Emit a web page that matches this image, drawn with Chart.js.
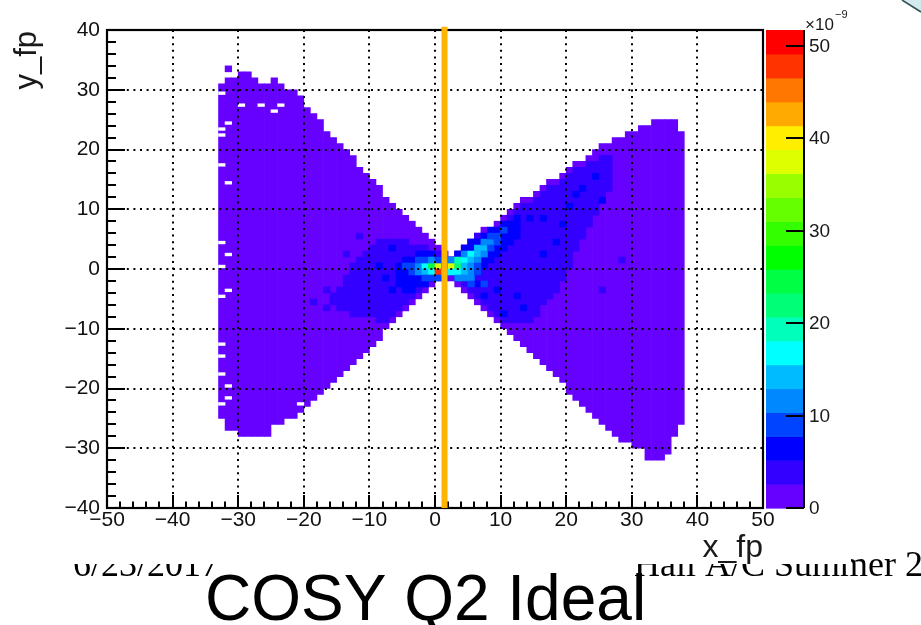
<!DOCTYPE html>
<html>
<head>
<meta charset="utf-8">
<script src="https://cdn.jsdelivr.net/npm/chart.js@4.4.1/dist/chart.umd.min.js"></script>
<style>
  html, body { margin: 0; padding: 0; background: #fff; }
  #wrap { width: 921px; height: 625px; position: relative; }
</style>
</head>
<body>
<div id="wrap"><canvas id="hist"></canvas></div>
<script>
// 2D histogram y_fp vs x_fp, bins are 1 x 1 units
// every column: left edge of the x bin, lowest and highest filled y edge
const colX = [-33, -32, -31, -30, -29, -28, -27, -26, -25, -24,
  -23, -22, -21, -20, -19, -18, -17, -16, -15, -14,
  -13, -12, -11, -10, -9, -8, -7, -6, -5, -4,
  -3, -2, -1, 0, 1, 2, 3, 4, 5, 6,
  7, 8, 9, 10, 11, 12, 13, 14, 15, 16,
  17, 18, 19, 20, 21, 22, 23, 24, 25, 26,
  27, 28, 29, 30, 31, 32, 33, 34, 35, 36, 37];
const colHigh = [31, 32, 32, 33, 33, 32, 31, 31, 32, 31,
  30, 30, 29, 27, 26, 25, 23, 22, 21, 20,
  19, 17, 16, 15, 14, 12, 11, 10, 9, 8,
  7, 6, 5, 4, 3, 2, 3, 4, 5, 6,
  7, 7, 8, 9, 10, 11, 12, 12, 13, 14,
  15, 15, 16, 17, 18, 18, 19, 20, 21, 21,
  22, 22, 23, 23, 24, 24, 25, 25, 25, 25, 23];
const colLow = [-25, -27, -27, -28, -28, -28, -28, -28, -26, -26,
  -25, -25, -24, -23, -22, -21, -20, -19, -18, -17,
  -16, -15, -14, -13, -12, -10, -9, -8, -7, -6,
  -5, -4, -3, -2, -2, -2, -3, -4, -5, -6,
  -7, -8, -9, -10, -11, -12, -13, -14, -15, -16,
  -17, -18, -19, -21, -22, -23, -24, -25, -26, -27,
  -28, -29, -29, -30, -30, -32, -32, -32, -31, -28, -26];
const baseLevel = 1.2;

// second level (a little denser) inside the bow tie
const blueX = [-16, -15, -14, -13, -12, -11, -10, -9, -8, -7, -6, -5, -4, -3, -2, -1, 0,
  2, 3, 4, 5, 6, 7, 8, 9, 10, 11, 12, 13, 14, 15, 16, 17, 18, 19, 20, 21, 22, 23, 24, 25, 26];
const blueLow = [-6, -7, -7, -8, -8, -8, -8, -9, -9, -8, -7, -6, -5, -4, -3, -2, -1,
  -1, -2, -3, -4, -5, -6, -7, -8, -9, -9, -9, -9, -9, -8, -6, -5, -4, -2, 0, 3, 5, 7, 9, 11, 13];
const blueHigh = [-4, -3, -1, 1, 2, 3, 4, 5, 5, 5, 5, 5, 4, 4, 4, 3, 3,
  2, 3, 4, 5, 6, 6, 6, 7, 8, 9, 10, 11, 11, 12, 13, 14, 14, 15, 16, 17, 17, 18, 18, 19, 19];
const blueLevel = 3.9;

// third level near the waist
const deepX = [-6, -5, -4, -3, -2, -1, 0,
  2, 3, 4, 5, 6, 7, 8, 9, 10, 11, 12];
const deepLow = [-3, -4, -4, -3, -3, -2, -1,
  -1, -2, -2, -2, -1, 0, 1, 2, 3, 4, 5];
const deepHigh = [1, 2, 2, 3, 3, 3, 2,
  2, 3, 4, 5, 5, 6, 7, 7, 8, 8, 9];
const deepLevel = 6.5;

// single bins: [x edge, y edge, content x1e-9]
const extraCells = [
  [-32, 33, 1.2],
  [-12, 5, 3.9], [-14, 2, 3.9], [-17, -4, 3.9], [-17, -7, 3.9], [-14, -5, 3.9], [-19, -6, 3.9],
  [-7, -4, 6.5], [-8, -2, 6.5], [-9, 0, 6.5], [-7, 3, 6.5],
  [14, 8, 6.5], [16, 8, 6.5], [19, 7, 6.5], [21, 12, 6.5], [22, 13, 6.5], [24, 15, 6.5],
  [25, 11, 6.5], [28, 1, 3.9], [25, -4, 3.9], [16, 2, 6.5], [12, -5, 6.5], [18, 4, 6.5],
  [20, 10, 6.5], [13, -7, 6.5], [10, -8, 6.5], [7, -5, 6.5], [9, -4, 6.5], [6, -3, 6.5],
  [-5, 0, 9], [-4, 0, 9], [-4, -1, 9],
  [-3, 0, 12], [-3, -1, 11], [-3, 1, 9],
  [-2, 0, 17], [-2, -1, 14], [-2, 1, 10], [-2, -2, 9],
  [-1, 0, 25], [-1, -1, 18], [-1, 1, 11], [-1, -2, 10],
  [0, 0, 38], [0, -1, 48], [0, 1, 10], [0, -2, 9],
  [1, 0, 51], [1, -1, 44],
  [2, 0, 37], [2, -1, 18], [2, 1, 12],
  [3, 0, 22], [3, 1, 19], [3, -1, 17], [3, -2, 11],
  [4, 1, 17], [4, 0, 14], [4, -1, 14], [4, 2, 11], [4, -2, 11],
  [5, 2, 16], [5, 1, 14], [5, 0, 11], [5, -1, 11], [5, -2, 11], [5, -3, 9],
  [6, 2, 14], [6, 3, 13], [6, 1, 11], [6, 0, 9], [6, -1, 9],
  [7, 3, 14], [7, 4, 11], [7, 2, 11], [7, -3, 9],
  [8, 4, 11], [8, 3, 9], [8, 5, 9],
  [9, 5, 9], [9, 4, 9],
  [10, 6, 9]
];

// empty bins along the edge of the left lobe: [x edge, y edge]
const emptyCells = [[-33, 29], [-32, 24], [-33, 23], [-33, 22], [-30, 27], [-27, 27], [-25, 26],
  [-24, 27], [-33, 17], [-32, 14], [-33, 4], [-32, 2], [-33, 0], [-32, -4], [-33, -5],
  [-33, -13], [-33, -15], [-33, -18], [-32, -20], [-32, -22], [-33, -23], [-21, -23]];

// vertical cut line
const cutX = 1.45;
const cutY = [-40, 40.55];

// colour scale
const zMax = 51.7;
const zTicks = [0, 10, 20, 30, 40, 50];
const palette = ['#6600ff', '#3300ff', '#0000ff', '#0044ff', '#0088ff', '#00bbff', '#00ffff',
  '#00ffbb', '#00ff77', '#00ff44', '#00ff00', '#33ff00', '#66ff00', '#99ff00', '#ddff00',
  '#ffee00', '#ffaa00', '#ff7700', '#ff3300', '#ff0000'];

const xTitle = 'x_fp';
const yTitle = 'y_fp';
const slideTitle = 'COSY Q2 Ideal';
const footerLeft = '6/23/2017';
const footerRight = 'Hall A/C Summer 2017';

function colourFor(z) {
  const k = Math.min(palette.length - 1, Math.floor(z / zMax * palette.length));
  return palette[k];
}
const minus = v => String(v).replace('-', '\u2212');

const baseCells = colX.map((x, i) => ({ x: x + 0.5, y: [colLow[i], colHigh[i]] }));
const blueCells = blueX.map((x, i) => ({ x: x + 0.5, y: [blueLow[i], blueHigh[i]] }));
const deepCells = deepX.map((x, i) => ({ x: x + 0.5, y: [deepLow[i], deepHigh[i]] }));
const singleCells = extraCells.map(([x, y]) => ({ x: x + 0.5, y: [y, y + 1] }));
const holeCells = emptyCells.map(([x, y]) => ({ x: x + 0.5, y: [y + 0.2, y + 0.65] }));

const sans = '"Liberation Sans", Arial, Helvetica, sans-serif';
Chart.defaults.font.family = sans;

const rootStyle = {
  id: 'rootStyle',
  beforeDraw(chart) {
    const ctx = chart.ctx;
    ctx.save();
    // slide footer, mostly hidden behind the plot picture
    ctx.fillStyle = '#000';
    ctx.font = '36px "Liberation Serif", "Times New Roman", serif';
    ctx.fillText(footerLeft, 73, 576);
    ctx.fillText(footerRight, 634, 576);
    ctx.fillStyle = '#fff';
    ctx.fillRect(0, 0, 851, 564);
    // corner of a shape on the slide
    ctx.fillStyle = '#d3eaee';
    ctx.beginPath();
    ctx.moveTo(902, 0); ctx.lineTo(921, 12); ctx.lineTo(921, 0); ctx.closePath();
    ctx.fill();
    ctx.strokeStyle = '#2f4f55';
    ctx.lineWidth = 1.5;
    ctx.beginPath(); ctx.moveTo(902, 0); ctx.lineTo(921, 12); ctx.stroke();
    ctx.restore();
  },
  beforeDatasetDraw(chart, args) {
    if (args.index !== 5) return;
    const { ctx, chartArea: a, scales: { x, y } } = chart;
    ctx.save();
    ctx.strokeStyle = '#000';
    ctx.lineWidth = 2;
    ctx.setLineDash([2, 4.6]);
    x.ticks.forEach(t => {
      if (t.value <= x.min || t.value >= x.max) return;
      const px = Math.round(x.getPixelForValue(t.value));
      ctx.beginPath(); ctx.moveTo(px, a.top); ctx.lineTo(px, a.bottom); ctx.stroke();
    });
    y.ticks.forEach(t => {
      if (t.value <= y.min || t.value >= y.max) return;
      const py = Math.round(y.getPixelForValue(t.value));
      ctx.beginPath(); ctx.moveTo(a.left, py); ctx.lineTo(a.right, py); ctx.stroke();
    });
    ctx.setLineDash([]);
    // inward ticks, major every 10, minor every 2
    for (let v = x.min; v <= x.max; v += 2) {
      const px = Math.round(x.getPixelForValue(v));
      const len = v % 10 === 0 ? 13 : 6.5;
      ctx.beginPath(); ctx.moveTo(px, a.bottom); ctx.lineTo(px, a.bottom - len); ctx.stroke();
    }
    for (let v = y.min; v <= y.max; v += 2) {
      const py = Math.round(y.getPixelForValue(v));
      const len = v % 10 === 0 ? 18 : 9;
      ctx.beginPath(); ctx.moveTo(a.left, py); ctx.lineTo(a.left + len, py); ctx.stroke();
    }
    ctx.lineWidth = 2.2;
    ctx.strokeRect(a.left, a.top, a.right - a.left, a.bottom - a.top);
    ctx.restore();
  },
  afterDraw(chart) {
    const { ctx, chartArea: a } = chart;
    const z = chart.scales.zScale;
    ctx.save();
    // colour bar
    const barL = a.right + 3, barR = a.right + 41;
    palette.forEach((c, k) => {
      const y0 = z.getPixelForValue(k * zMax / palette.length);
      const y1 = z.getPixelForValue((k + 1) * zMax / palette.length);
      ctx.fillStyle = c;
      ctx.fillRect(barL, y1, barR - barL, y0 - y1 + 0.6);
    });
    ctx.strokeStyle = '#000';
    ctx.lineWidth = 2;
    ctx.beginPath(); ctx.moveTo(barR, a.top); ctx.lineTo(barR, a.bottom); ctx.stroke();
    ctx.fillStyle = '#1a1a1a';
    ctx.font = '19px ' + sans;
    ctx.textBaseline = 'middle';
    zTicks.forEach(v => {
      const py = Math.round(z.getPixelForValue(v));
      ctx.beginPath(); ctx.moveTo(barR - 18, py); ctx.lineTo(barR, py); ctx.stroke();
      ctx.fillText(String(v), barR + 5, py + 1);
    });
    ctx.textBaseline = 'alphabetic';
    ctx.font = '17px ' + sans;
    ctx.fillText('\u00d710', barR + 1, 30);
    ctx.font = '11px ' + sans;
    ctx.fillText('\u22129', barR + 31, 18);
    // axis titles
    ctx.font = '32px ' + sans;
    ctx.textAlign = 'right';
    ctx.fillText(xTitle, a.right, 557);
    ctx.translate(36, a.top + 1);
    ctx.rotate(-Math.PI / 2);
    ctx.font = '31px ' + sans;
    ctx.fillText(yTitle, 0, 0);
    ctx.setTransform(1, 0, 0, 1, 0, 0);
    // slide title
    ctx.textAlign = 'left';
    ctx.fillStyle = '#000';
    ctx.font = '64px ' + sans;
    ctx.fillText(slideTitle, 205, 620);
    ctx.restore();
  }
};

new Chart(document.getElementById('hist'), {
  type: 'bar',
  data: {
    datasets: [
      { data: baseCells, backgroundColor: colourFor(baseLevel), order: 6 },
      { data: blueCells, backgroundColor: colourFor(blueLevel), order: 5 },
      { data: deepCells, backgroundColor: colourFor(deepLevel), order: 4 },
      { data: singleCells, backgroundColor: extraCells.map(c => colourFor(c[2])), order: 3 },
      { data: holeCells, backgroundColor: '#ffffff', order: 2 },
      {
        type: 'line',
        data: [{ x: cutX, y: cutY[0] }, { x: cutX, y: cutY[1] }],
        borderColor: '#ffb400',
        borderWidth: 6,
        pointRadius: 0,
        clip: false,
        order: 1
      }
    ]
  },
  options: {
    responsive: true,
    maintainAspectRatio: false,
    animation: false,
    events: [],
    layout: { padding: { top: 30, right: 158, left: 0, bottom: 0 } },
    datasets: {
      bar: { grouped: false, barPercentage: 1, categoryPercentage: 1, borderWidth: 0 }
    },
    plugins: { legend: { display: false }, tooltip: { enabled: false } },
    scales: {
      x: {
        type: 'linear', min: -50, max: 50, offset: false,
        grid: { display: false, drawTicks: false }, border: { display: false },
        ticks: { stepSize: 10, padding: 0, maxRotation: 0, autoSkip: false,
          color: '#111', font: { size: 21 }, callback: minus },
        afterFit: s => { s.height = 117; }
      },
      y: {
        type: 'linear', min: -40, max: 40,
        grid: { display: false, drawTicks: false }, border: { display: false },
        ticks: { stepSize: 10, padding: 7, color: '#111', font: { size: 21 }, callback: minus },
        afterFit: s => { s.width = 107; }
      },
      zScale: { type: 'linear', axis: 'y', position: 'right', display: false, min: 0, max: zMax }
    }
  },
  plugins: [rootStyle]
});
</script>
</body>
</html>
